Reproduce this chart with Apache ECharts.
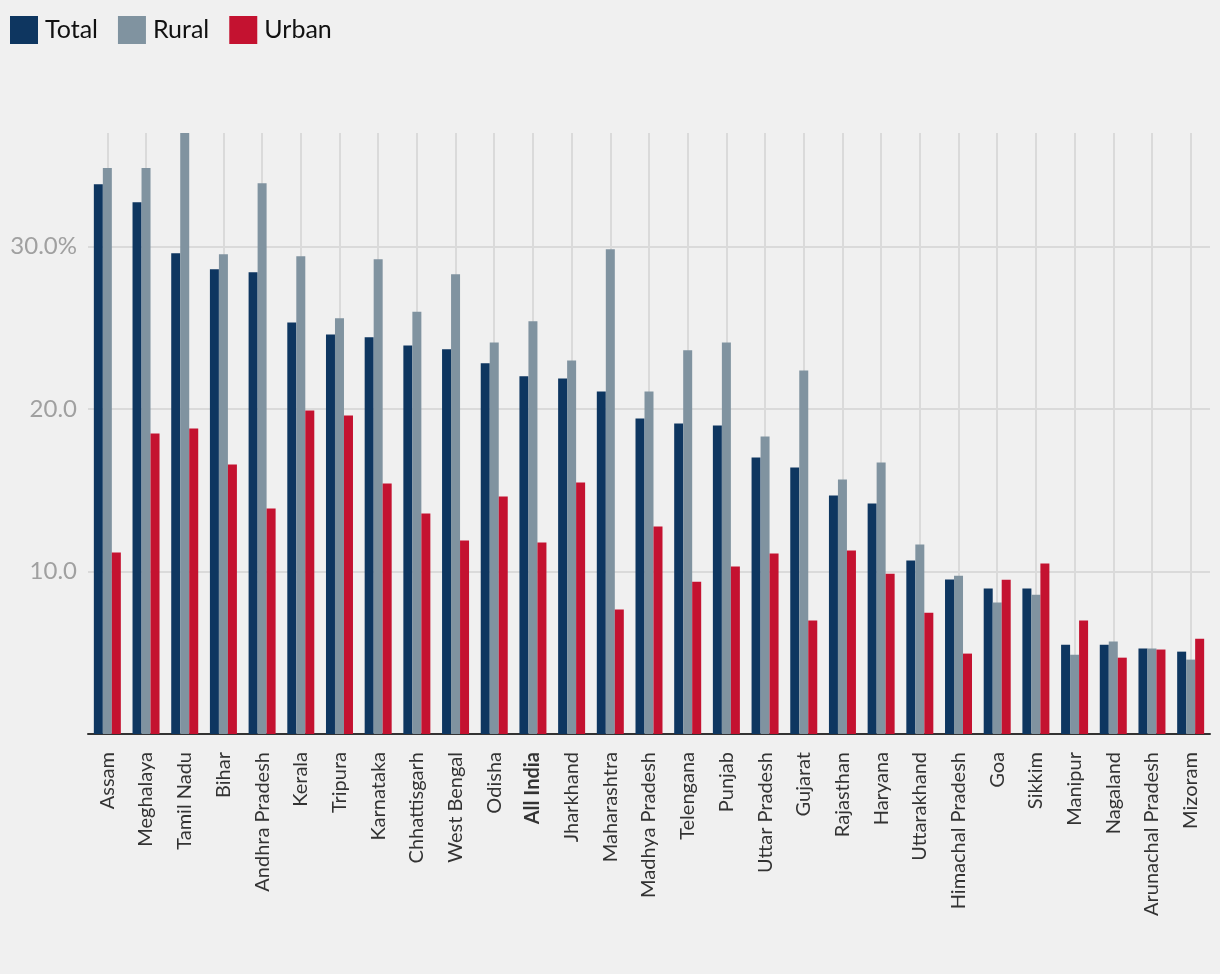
<!DOCTYPE html>
<html>
<head>
<meta charset="utf-8">
<script src="https://cdn.jsdelivr.net/npm/echarts@6/dist/echarts.min.js"></script>
<style>
html,body{margin:0;padding:0;background:#f0f0f0;}
#chart{width:1220px;height:974px;}
</style>
</head>
<body>
<div id="chart"></div>
<script>
const categories = ["Assam","Meghalaya","Tamil Nadu","Bihar","Andhra Pradesh","Kerala","Tripura","Karnataka","Chhattisgarh","West Bengal","Odisha","All India","Jharkhand","Maharashtra","Madhya Pradesh","Telengana","Punjab","Uttar Pradesh","Gujarat","Rajasthan","Haryana","Uttarakhand","Himachal Pradesh","Goa","Sikkim","Manipur","Nagaland","Arunachal Pradesh","Mizoram"];
const totalValues = [33.85,32.74,29.59,28.61,28.43,25.34,24.60,24.42,23.92,23.68,22.82,22.02,21.89,21.09,19.43,19.12,19.00,17.02,16.41,14.68,14.19,10.68,9.51,8.95,8.95,5.50,5.50,5.26,5.07];
const ruralValues = [34.84,34.84,37.0,29.53,33.90,29.41,25.59,29.22,26.00,28.30,24.11,25.41,23.00,29.84,21.09,23.62,24.11,18.32,22.38,15.67,16.72,11.66,9.75,8.09,8.58,4.88,5.69,5.26,4.58];
const urbanValues = [11.17,18.50,18.81,16.59,13.88,19.92,19.61,15.42,13.57,11.91,14.62,11.79,15.48,7.66,12.78,9.38,10.31,11.11,6.98,11.29,9.87,7.47,4.95,9.50,10.49,6.98,4.70,5.20,5.87];
const seriesNames = ["Total","Rural","Urban"];
const yTicks = {10:"10.0",20:"20.0",30:"30.0%"};
</script>
<script>
const FONT = 'Lato, "Noto Sans", sans-serif';
const colors = ['#0e3660','#8093a0','#c41230'];
const chart = echarts.init(document.getElementById('chart'), null, {renderer:'canvas'});
const dataSets = [totalValues, ruralValues, urbanValues];
chart.setOption({
  backgroundColor: '#f0f0f0',
  animation: false,
  textStyle: {fontFamily: FONT},
  legend: {
    left: 10, top: 16, padding: 0,
    itemWidth: 28, itemHeight: 28, itemGap: 20,
    icon: 'rect',
    textStyle: {fontSize: 25, color: '#111', fontFamily: FONT, padding: [0, 0, 0, 2]},
    data: seriesNames
  },
  grid: {left: 88, right: 10, top: 133, bottom: 240, containLabel: false},
  xAxis: {
    type: 'category',
    data: categories,
    axisLine: {show: true, lineStyle: {color: '#333', width: 2}},
    axisTick: {show: false},
    splitLine: {show: true, interval: 0, alignWithLabel: true, lineStyle: {color: '#dadada', width: 2}},
    axisLabel: {
      interval: 0, rotate: 90, margin: 18,
      fontSize: 20, color: '#333', fontFamily: FONT,
      formatter: function (v) { return v === 'All India' ? '{b|' + v + '}' : v; },
      rich: {b: {fontWeight: 'bold', fontSize: 20, color: '#333', fontFamily: FONT}}
    }
  },
  yAxis: {
    type: 'value',
    min: 0, max: 37, interval: 10,
    axisLine: {show: false},
    axisTick: {show: false},
    splitLine: {show: true, showMaxLine: false, lineStyle: {color: '#dadada', width: 2}},
    axisLabel: {
      margin: 11, fontSize: 24, color: '#a0a0a0', fontFamily: FONT,
      formatter: function (v) { return yTicks[v] || ''; }
    }
  },
  series: seriesNames.map(function (n, i) {
    return {
      name: n, type: 'bar', data: dataSets[i],
      barWidth: 9, barGap: '0%',
      itemStyle: {color: colors[i]},
      clip: true
    };
  })
});
</script>
</body>
</html>
